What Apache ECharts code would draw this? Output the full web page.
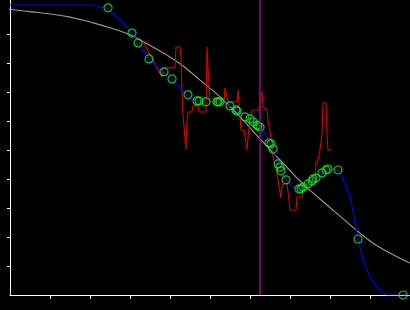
<!DOCTYPE html>
<html>
<head>
<meta charset="utf-8">
<script src="https://cdn.jsdelivr.net/npm/echarts@6/dist/echarts.min.js"></script>
<style>
  html, body { margin: 0; padding: 0; background: #000; }
  #chart { width: 410px; height: 310px; }
</style>
</head>
<body>
<div id="chart"></div>
<script>
// smooth reference curve (gray)
const grayCurve = [
  [-0.25, 9.90], [0, 9.85], [0.5, 9.77], [1.0, 9.69], [1.5, 9.58], [2.0, 9.41],
  [2.5, 9.21], [3.0, 8.97], [3.25, 8.79], [3.75, 8.41], [4.25, 7.97], [4.75, 7.41],
  [5.25, 6.83], [5.75, 6.14], [6.25, 5.38], [6.75, 4.66], [7.25, 3.93], [7.75, 3.31],
  [8.25, 2.72], [9.0, 1.86], [9.5, 1.45], [10.0, 1.10]
]

// fitted curve (blue)
const fitCurve = [
  [0, 10], [2.075, 10], [2.25, 9.93], [2.45, 9.86], [2.75, 9.48], [3.05, 9.03],
  [3.2, 8.72], [3.475, 8.14], [3.85, 7.69], [4.05, 7.45], [4.45, 6.86], [4.75, 6.69],
  [5.25, 6.66], [5.5, 6.52], [5.875, 6.17], [6.25, 5.79], [6.5, 5.24], [6.75, 4.41],
  [6.9, 3.97], [7.075, 3.72], [7.25, 3.66], [7.5, 3.86], [7.75, 4.14], [8.0, 4.34],
  [8.2, 4.31], [8.325, 3.97], [8.5, 3.38], [8.7, 1.93], [8.875, 1.03], [9.05, 0.52],
  [9.25, 0.17], [9.45, 0], [10, 0]
]

// raw noisy signal (red)
const rawSignal = [
  [3.3, 8.79], [3.8, 7.52], [3.825, 7.83], [4.125, 7.83], [4.15, 8.55], [4.25, 8.55],
  [4.275, 8.21], [4.3, 7.0], [4.325, 6.21], [4.4, 5.0], [4.425, 6.03], [4.45, 6.31],
  [4.55, 6.31], [4.575, 6.52], [4.7, 6.52], [4.725, 6.31], [4.9, 6.31], [4.925, 8.55],
  [4.975, 8.55], [5.0, 6.66], [5.35, 6.66], [5.375, 7.14], [5.425, 7.14], [5.45, 6.66],
  [5.675, 6.66], [5.7, 7.07], [5.75, 7.07], [5.775, 5.69], [5.85, 5.69], [5.925, 5.0],
  [5.975, 5.79], [6.05, 6.38], [6.225, 6.38], [6.25, 6.90], [6.3, 7.0], [6.325, 6.48],
  [6.425, 6.38], [6.45, 6.03], [6.55, 5.24], [6.575, 4.76], [6.675, 4.21], [6.7, 3.97],
  [6.775, 3.34], [6.8, 3.79], [6.925, 3.86], [6.95, 3.55], [7.0, 2.93], [7.15, 2.93],
  [7.175, 3.38], [7.3, 3.38], [7.325, 3.62], [7.425, 3.62], [7.5, 3.79], [7.625, 3.79],
  [7.65, 4.55], [7.7, 4.66], [7.75, 5.0], [7.8, 5.59], [7.825, 6.62], [7.9, 6.62],
  [7.925, 5.59], [7.95, 5.0], [8.05, 5.0]
]

// sample points (green circles)
const samples = [
  [2.45, 9.90], [3.05, 9.03], [3.2, 8.69], [3.475, 8.14], [3.85, 7.69], [4.05, 7.45],
  [4.45, 6.90], [4.675, 6.69], [4.725, 6.69], [4.9, 6.66], [5.175, 6.66], [5.2, 6.66],
  [5.25, 6.66], [5.5, 6.52], [5.65, 6.38], [5.675, 6.34], [5.875, 6.14], [6.0, 6.07],
  [6.075, 5.97], [6.175, 5.86], [6.2, 5.83], [6.25, 5.79], [6.475, 5.24], [6.525, 5.21],
  [6.575, 5.03], [6.7, 4.52], [6.75, 4.41], [6.775, 4.28], [6.9, 3.97], [7.225, 3.66],
  [7.275, 3.66], [7.325, 3.72], [7.45, 3.83], [7.55, 3.93], [7.575, 4.0], [7.65, 4.03],
  [7.8, 4.21], [7.9, 4.31], [7.95, 4.34], [8.2, 4.31], [8.7, 1.93], [9.825, 0]
]

// vertical marker position
const markerX = 6.25

const xTicks = [1, 2, 3, 4, 5, 6, 7, 8, 9]
const yTicks = [1, 2, 3, 4, 5, 6, 7, 8, 9]

const chart = echarts.init(document.getElementById('chart'))

const axisCommon = {
  type: 'value',
  splitLine: { show: false },
  axisLabel: { show: false },
  axisLine: { show: true, onZero: false, lineStyle: { color: '#fff', width: 1 } }
}

chart.setOption({
  animation: false,
  backgroundColor: '#000',
  grid: { left: 10, right: 0, top: 0, bottom: 15 },
  xAxis: Object.assign({}, axisCommon, {
    min: 0,
    max: 10,
    axisTick: { show: true, length: 4, customValues: xTicks, lineStyle: { color: '#fff' } }
  }),
  yAxis: Object.assign({}, axisCommon, {
    min: 0,
    max: 10.17,
    axisTick: { show: true, length: 3, customValues: yTicks, lineStyle: { color: '#fff' } }
  }),
  series: [
    {
      type: 'line',
      data: grayCurve,
      smooth: true,
      symbol: 'none',
      clip: false,
      lineStyle: { color: '#9a9a9a', width: 1.1 },
      z: 1
    },
    {
      type: 'line',
      data: rawSignal,
      symbol: 'none',
      lineStyle: { color: '#d80000', width: 1.1 },
      z: 2
    },
    {
      type: 'line',
      data: fitCurve,
      smooth: 0.3,
      symbol: 'none',
      lineStyle: { color: '#0000ff', width: 1.1 },
      z: 3
    },
    {
      type: 'scatter',
      data: samples,
      symbol: 'circle',
      symbolSize: 8,
      itemStyle: { color: 'rgba(0,0,0,0)', borderColor: '#00ff00', borderWidth: 1.2 },
      z: 4
    },
    {
      type: 'line',
      data: [[markerX, 0], [markerX, 10.17]],
      symbol: 'none',
      lineStyle: { color: '#a000a0', width: 1.5 },
      z: 5
    }
  ]
})
</script>
</body>
</html>
